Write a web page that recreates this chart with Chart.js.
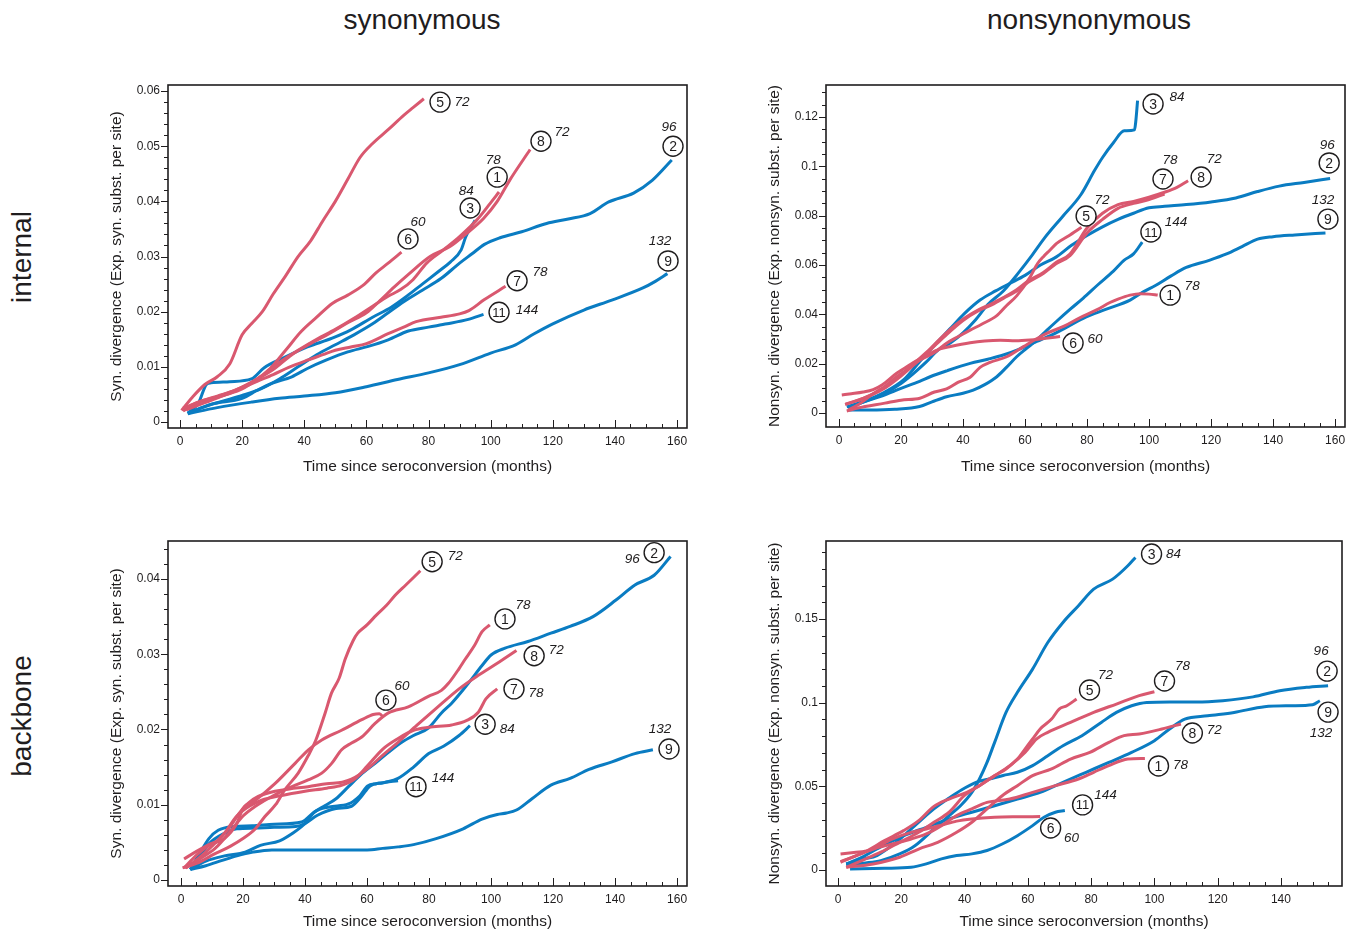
<!DOCTYPE html>
<html>
<head>
<meta charset="utf-8">
<script src="https://cdn.jsdelivr.net/npm/chart.js@4.4.1/dist/chart.umd.min.js"></script>
<style>
  body { margin: 0; background: #fff; width: 1356px; height: 933px; position: relative; overflow: hidden;
         font-family: 'Liberation Sans', Arial, sans-serif; color: #1f1d1e; }
  canvas { position: absolute; }
  .head { position: absolute; top: 4px; font-size: 28px; line-height: 32px; transform: translateX(-50%); white-space: nowrap; }
  .side { position: absolute; font-size: 28px; line-height: 32px; transform: translate(-50%, -50%) rotate(-90deg); white-space: nowrap; }
</style>
</head>
<body>
<div class="head" style="left:422px">synonymous</div>
<div class="head" style="left:1089px">nonsynonymous</div>
<div class="side" style="left:22px; top:257px">internal</div>
<div class="side" style="left:22px; top:716px">backbone</div>

<canvas id="intSyn" width="600" height="410" style="left:95px; top:75px"></canvas>
<canvas id="intNon" width="600" height="410" style="left:755px; top:75px"></canvas>
<canvas id="bbSyn" width="600" height="402" style="left:95px; top:531px"></canvas>
<canvas id="bbNon" width="600" height="402" style="left:755px; top:531px"></canvas>

<script>
// ---- data: [months since seroconversion, divergence] per patient ----
const patients = ['1', '2', '3', '5', '6', '7', '8', '9', '11'];
const sampleMonths = ['78', '96', '84', '72', '60', '78', '72', '132', '144'];
const redPatients = ['1', '5', '6', '7', '8'];

// internal branches, synonymous
const intSyn_1 = [[2,0.0022],[8,0.0035],[14,0.0048],[20,0.006],[26,0.0082],[32,0.0108],[38,0.013],[44,0.015],[50,0.0168],[56,0.0188],[62,0.021],[67,0.0228],[71,0.024],[75,0.0258],[79.4,0.0288],[84.8,0.0312],[90,0.0336],[95.5,0.0366],[99.8,0.0396],[102.7,0.0417]];
const intSyn_2 = [[2.5,0.0015],[8,0.0028],[14,0.0038],[20,0.0048],[26,0.006],[32,0.0078],[38,0.01],[44,0.0122],[50,0.014],[56,0.0158],[62,0.0178],[67,0.0198],[72,0.0218],[78,0.0239],[84,0.026],[90,0.0288],[94,0.0305],[98,0.0322],[103,0.0334],[110,0.0345],[118,0.036],[125,0.0368],[132,0.0378],[138,0.0399],[146,0.0415],[152,0.0438],[158.3,0.0475]];
const intSyn_3 = [[2.5,0.0016],[6,0.0035],[8.5,0.0068],[10,0.0071],[16,0.0073],[23,0.0078],[27,0.0098],[34,0.0118],[41,0.0136],[49,0.0152],[55,0.0167],[62,0.019],[68,0.0208],[73,0.0228],[78,0.025],[83,0.0272],[87,0.029],[90.5,0.0312],[92,0.0336],[95,0.0366]];
const intSyn_5 = [[0.5,0.0021],[4,0.0045],[8,0.0068],[12,0.0082],[16,0.0105],[20,0.0158],[23,0.0178],[26.5,0.02],[30,0.0232],[34,0.0265],[38,0.03],[42,0.0328],[46,0.0365],[50,0.04],[54,0.044],[58,0.048],[62,0.0505],[67,0.053],[72,0.0556],[75,0.057],[78.5,0.0586]];
const intSyn_6 = [[1,0.0025],[6,0.0036],[12,0.0047],[18,0.0058],[24,0.0075],[29,0.0097],[34,0.013],[39,0.0164],[44,0.019],[49,0.0215],[54,0.023],[59,0.0248],[63,0.027],[67,0.0288],[71.3,0.0308]];
const intSyn_7 = [[1,0.0021],[5,0.0034],[10,0.0042],[15,0.005],[20,0.0062],[25,0.0074],[30,0.0086],[35,0.0099],[41,0.0112],[46,0.0122],[50,0.013],[55,0.0136],[60,0.0142],[67,0.016],[72,0.0172],[76,0.0182],[84,0.019],[90,0.0196],[93,0.0202],[98,0.0222],[104.8,0.0246]];
const intSyn_8 = [[1,0.002],[6,0.0036],[12,0.0046],[18,0.0058],[24,0.0075],[30,0.0095],[36,0.0122],[42,0.0142],[48,0.016],[54,0.018],[60,0.0198],[64,0.0218],[69,0.0245],[74,0.027],[80.5,0.03],[86.9,0.0318],[92.3,0.0342],[97.7,0.0369],[102,0.0399],[106.2,0.0439],[112.7,0.0494]];
const intSyn_9 = [[2.5,0.0015],[12,0.0026],[23,0.0036],[32,0.0043],[40,0.0047],[50,0.0053],[60,0.0064],[70,0.0077],[80,0.0089],[90,0.0104],[100,0.0125],[108,0.014],[114,0.016],[120,0.0178],[130,0.0203],[139,0.0221],[149,0.0243],[153,0.0255],[156.9,0.0269]];
const intSyn_11 = [[2.5,0.0016],[10,0.0032],[20,0.0043],[25,0.0058],[29.5,0.007],[36,0.0082],[41,0.0097],[47,0.0112],[54,0.0127],[60.6,0.0137],[67,0.0149],[73.5,0.0165],[80,0.0172],[86,0.0178],[92.8,0.0186],[97.7,0.0195]];

// internal branches, nonsynonymous
const intNon_1 = [[2.5,0.0008],[6,0.002],[14.8,0.004],[20,0.0052],[26.1,0.006],[30.8,0.0085],[34.7,0.0098],[38.5,0.0125],[42.3,0.0145],[45.5,0.0185],[48.7,0.0205],[54.1,0.0228],[59.5,0.0269],[63,0.0296],[67,0.0323],[72.6,0.0352],[77.5,0.0385],[83.1,0.0418],[87.4,0.0448],[90,0.0462],[93.9,0.0478],[97.2,0.0484],[100,0.0482],[102.8,0.0478]];
const intNon_2 = [[2.5,0.0025],[8.6,0.005],[14.8,0.0085],[20.9,0.0135],[25.8,0.0205],[30.8,0.0275],[35.7,0.034],[40.6,0.0405],[45.5,0.0458],[50.5,0.0495],[55,0.0525],[60,0.0558],[65,0.06],[70,0.0632],[75,0.068],[80,0.072],[85,0.0755],[90,0.0785],[95,0.081],[100,0.0832],[105,0.0838],[112,0.0845],[120,0.0856],[128,0.0872],[135,0.0898],[142,0.092],[150,0.0935],[158.4,0.0951]];
const intNon_3 = [[3,0.0025],[8,0.0045],[14,0.0075],[20,0.012],[24,0.016],[28,0.0205],[32,0.0256],[36,0.0285],[40,0.0325],[44,0.0377],[48,0.044],[53,0.0495],[58,0.057],[62,0.0635],[66.5,0.0713],[72,0.0795],[78,0.0885],[82.5,0.0985],[85,0.1036],[88.5,0.1096],[92,0.1144],[95.3,0.1148],[95.7,0.118],[96.3,0.1267]];
const intNon_5 = [[3,0.0012],[6,0.0032],[11,0.0078],[15,0.011],[18.6,0.0147],[22,0.0175],[26.1,0.0215],[30.8,0.0245],[34.7,0.0283],[38.5,0.031],[42.3,0.0336],[46,0.036],[50.9,0.0395],[54,0.0435],[57.3,0.0475],[61.6,0.055],[64,0.0605],[66,0.0635],[68,0.066],[70.2,0.0688],[74,0.0718],[78.2,0.0753]];
const intNon_6 = [[0.9,0.0073],[4,0.0078],[7.8,0.0085],[11,0.0095],[14,0.0115],[18.6,0.0161],[21,0.018],[24,0.0205],[28.3,0.0235],[32.6,0.026],[36,0.027],[42.3,0.0285],[47,0.0292],[52,0.0295],[57,0.0293],[61.6,0.0296],[66,0.0302],[71.3,0.031]];
const intNon_7 = [[2,0.0035],[8,0.006],[14,0.0095],[20,0.015],[25,0.0205],[29.4,0.0255],[34,0.031],[40,0.0375],[45,0.0415],[48.7,0.0435],[53,0.0465],[57.3,0.0495],[61,0.053],[65.9,0.0566],[70,0.0605],[74.5,0.0638],[80,0.073],[85,0.0785],[90,0.083],[95,0.085],[100,0.0865],[105,0.0888]];
const intNon_8 = [[2,0.0035],[8,0.006],[14,0.0098],[20,0.0155],[25,0.021],[29.4,0.026],[34,0.0318],[40,0.038],[45,0.0418],[48.7,0.044],[53,0.0468],[57.3,0.05],[61,0.0535],[65.9,0.057],[70,0.061],[74.5,0.0645],[80,0.075],[85,0.081],[90,0.0845],[95,0.0858],[100,0.0875],[105,0.0895],[109,0.0915],[112.6,0.0942]];
const intNon_9 = [[3,0.002],[8,0.0045],[14,0.007],[20,0.01],[26,0.0128],[29.4,0.0147],[35,0.0172],[42.3,0.0201],[48,0.0218],[53,0.0235],[58,0.0258],[63.8,0.029],[70,0.0325],[78.8,0.0384],[86,0.042],[93.9,0.0458],[98,0.049],[102.2,0.0518],[107,0.0555],[112,0.059],[119.4,0.0619],[125,0.0645],[130,0.0675],[135,0.0705],[140,0.0715],[147,0.0722],[156.9,0.073]];
const intNon_11 = [[3,0.0012],[10,0.0012],[18,0.0015],[26,0.0026],[30,0.0045],[34.7,0.0066],[40,0.008],[43.3,0.0093],[47,0.0115],[50.9,0.0147],[54,0.0185],[57.3,0.0228],[60.5,0.0262],[63.8,0.0296],[67,0.0335],[70.2,0.0372],[74.5,0.042],[78.8,0.0466],[83.5,0.052],[88.5,0.0575],[92,0.062],[95,0.0645],[97.8,0.0693]];

// backbone, synonymous
const bbSyn_1 = [[1.5,0.0016],[6,0.0028],[11,0.0042],[16,0.0065],[20,0.0085],[24,0.0098],[28,0.0108],[34.6,0.0122],[41,0.0133],[45.4,0.0142],[48.6,0.0155],[51.8,0.0173],[55,0.0182],[58.3,0.019],[62.6,0.0208],[66.9,0.0222],[73.3,0.023],[79.8,0.0244],[84,0.0252],[86.2,0.0261],[89.7,0.0281],[91.6,0.0293],[94.7,0.0312],[97.1,0.033],[99.6,0.0339]];
const bbSyn_2 = [[3,0.0014],[6,0.0035],[9,0.0055],[12,0.0066],[17,0.0071],[23,0.0072],[30,0.0074],[38.9,0.0077],[42.9,0.009],[46.5,0.0099],[50,0.0108],[54,0.0124],[58,0.014],[62.6,0.0155],[67,0.017],[71.2,0.0183],[75,0.0192],[79.8,0.0202],[84,0.0222],[87.3,0.0235],[92.2,0.0259],[97.1,0.0285],[100,0.0299],[104.5,0.0308],[111.9,0.0317],[119.3,0.0328],[125.5,0.0337],[132.9,0.035],[140.3,0.0372],[146.4,0.0392],[152.6,0.0405],[157.9,0.043]];
const bbSyn_3 = [[3,0.0014],[8,0.0025],[14,0.0032],[20.7,0.0037],[25.6,0.0046],[31.8,0.0052],[36,0.0062],[40,0.0075],[43,0.009],[47.8,0.0097],[54,0.0101],[57.7,0.0112],[60.2,0.0125],[63,0.0128],[66,0.013],[70,0.0135],[75,0.015],[79.9,0.0168],[84.8,0.0178],[89.7,0.0192],[93.2,0.0205]];
const bbSyn_5 = [[0.5,0.0016],[5,0.0022],[11,0.0035],[16,0.0045],[20,0.0055],[24,0.0068],[27,0.0084],[30.5,0.01],[33.5,0.012],[37.8,0.0142],[41,0.0165],[43.5,0.0186],[46.5,0.0222],[48.5,0.0248],[51,0.0268],[53,0.0294],[55.5,0.0318],[57,0.0328],[60,0.0339],[63,0.0352],[66.3,0.0365],[69,0.0378],[72.5,0.0392],[75,0.0402],[77.2,0.0411]];
const bbSyn_6 = [[1,0.0016],[5,0.0033],[9,0.0046],[14,0.0055],[18,0.0075],[20,0.0095],[24,0.0106],[30.3,0.0128],[36.8,0.0155],[41.1,0.0173],[45.4,0.0186],[51.8,0.0199],[58.3,0.0213],[62,0.022],[64,0.0221],[65.3,0.0216]];
const bbSyn_7 = [[1.5,0.0016],[6,0.003],[10,0.0045],[14,0.0062],[18,0.0085],[22,0.0098],[26,0.0106],[32,0.0112],[40,0.0118],[47,0.0122],[52,0.0126],[56,0.0134],[60.2,0.0152],[65.1,0.0174],[70,0.0188],[75,0.0199],[79.9,0.0203],[87.3,0.0206],[92.2,0.0212],[95.9,0.0223],[98.4,0.0241],[102,0.0254]];
const bbSyn_8 = [[1,0.0028],[5,0.0038],[9,0.0047],[12,0.0053],[16,0.0072],[19.6,0.0093],[22,0.0103],[24.9,0.0111],[30.3,0.0118],[35,0.0121],[41,0.0124],[47,0.0128],[52,0.013],[55,0.0134],[60.2,0.0148],[65.1,0.0166],[70,0.0183],[76.2,0.0206],[82.3,0.0228],[89.7,0.0254],[95.9,0.0272],[102,0.0288],[108.2,0.0305]];
const bbSyn_9 = [[3,0.0014],[8,0.0019],[13.3,0.0026],[18,0.0032],[23.2,0.0037],[29.3,0.004],[40,0.004],[50,0.004],[60,0.004],[65.1,0.0042],[70,0.0044],[75,0.0047],[82.3,0.0055],[91,0.0068],[97.1,0.0081],[102,0.0087],[105,0.0089],[108.2,0.0093],[113.2,0.0108],[119.3,0.0126],[125.5,0.0135],[131.6,0.0147],[139,0.0157],[146.4,0.0168],[152.2,0.0173]];
const bbSyn_11 = [[3,0.0014],[6,0.003],[9,0.0048],[14,0.0062],[18,0.0068],[24,0.0069],[30,0.007],[37,0.0071],[40,0.0075],[44,0.0086],[50,0.0095],[55,0.0098],[58,0.011],[61,0.0125],[65,0.0129],[70,0.0132]];

// backbone, nonsynonymous
const bbNon_1 = [[0.8,0.0046],[5,0.008],[11.1,0.0125],[17.1,0.0155],[23.1,0.0185],[27.9,0.0215],[32.7,0.0265],[37.5,0.0325],[42.3,0.0365],[47.1,0.0404],[54.3,0.0424],[61.5,0.0464],[68.7,0.0504],[76,0.0544],[80.8,0.0584],[85.6,0.0624],[91.6,0.0663],[97,0.0667]];
const bbNon_2 = [[2.6,0.0036],[8,0.0065],[12.3,0.0086],[18.3,0.0165],[24.3,0.0265],[30.3,0.0365],[35.1,0.043],[39,0.0478],[43.8,0.0525],[48,0.0545],[52.2,0.0565],[56.7,0.0584],[61.5,0.0624],[66.3,0.0683],[71.1,0.0743],[77.1,0.0803],[83.2,0.0882],[88,0.0942],[92.8,0.0982],[97.6,0.1002],[104.8,0.1005],[113.2,0.1004],[121.6,0.1012],[131.2,0.1035],[139.6,0.1072],[148,0.1092],[154.9,0.1102]];
const bbNon_3 = [[2.6,0.0026],[8,0.004],[13.5,0.0056],[19.5,0.0096],[24.3,0.0145],[30.3,0.0245],[35.1,0.0325],[38.7,0.0384],[42.3,0.0464],[44.7,0.0544],[47.1,0.0643],[49.5,0.0763],[53.1,0.0942],[56.7,0.1062],[61.5,0.1201],[66.3,0.136],[71.1,0.148],[76,0.158],[80.8,0.1679],[86.8,0.1739],[91.6,0.1819],[94,0.1869]];
const bbNon_5 = [[2.6,0.0016],[7.5,0.0056],[13.5,0.0106],[19.5,0.0165],[25.5,0.0225],[30.3,0.0285],[35.1,0.0345],[39.9,0.0444],[44.7,0.0504],[49.5,0.0564],[53.1,0.0604],[56.7,0.0663],[59.1,0.0723],[61.5,0.0783],[63.9,0.0843],[67.5,0.0902],[69.9,0.0962],[72.3,0.0982],[75.4,0.1022]];
const bbNon_6 = [[0.8,0.0096],[5,0.0105],[9.9,0.0116],[17.1,0.0185],[23.1,0.0225],[27.9,0.0245],[32.7,0.0268],[37.5,0.0292],[42.3,0.0305],[49.5,0.0315],[56.7,0.0318],[63.9,0.0319]];
const bbNon_7 = [[0.8,0.005],[5,0.008],[8.7,0.011],[14.7,0.0175],[20.7,0.0235],[25.5,0.0295],[30.3,0.038],[35.1,0.0424],[40.7,0.0464],[44.7,0.0504],[49.5,0.0564],[54.3,0.0624],[59.1,0.0703],[62.7,0.0783],[66.3,0.0823],[73.5,0.0882],[80.8,0.0942],[88,0.0992],[95.2,0.1042],[100,0.1066]];
const bbNon_8 = [[2.6,0.0016],[11.1,0.0036],[19.5,0.0076],[25.5,0.0125],[31.5,0.0165],[37.5,0.0225],[42.3,0.0285],[47.1,0.0365],[51.9,0.0444],[56.7,0.0504],[61.5,0.0564],[67.5,0.0604],[73.5,0.0663],[79.6,0.0703],[85.6,0.0763],[90.4,0.0803],[95.2,0.0813],[102.4,0.0843],[108.4,0.0873]];
const bbNon_9 = [[2.6,0.0036],[8,0.008],[12.3,0.0125],[20.7,0.0205],[27.9,0.0255],[35.1,0.0305],[42.3,0.0345],[49.5,0.0384],[56.7,0.0424],[63.9,0.0464],[71.1,0.0524],[78.4,0.0584],[85.6,0.0643],[92.8,0.0703],[100,0.0773],[104.8,0.0843],[109.6,0.0902],[116.8,0.0922],[125.2,0.0942],[134.8,0.0976],[143.3,0.0982],[150,0.0988],[152.3,0.1012]];
const bbNon_11 = [[3.8,0.0006],[14.7,0.001],[23.1,0.0016],[27.9,0.0036],[32.7,0.0066],[37.5,0.0086],[42.3,0.0096],[47.1,0.0116],[51.9,0.0155],[56.7,0.0205],[61.5,0.0265],[65.1,0.0315],[68.7,0.0345],[71.7,0.0355]];

// tick values and labels
const xTicksFull = [0, 20, 40, 60, 80, 100, 120, 140, 160];
const xTicksShort = [0, 20, 40, 60, 80, 100, 120, 140];
const intSynYTicks = [0, 0.01, 0.02, 0.03, 0.04, 0.05, 0.06];
const intSynYLabels = ['0', '0.01', '0.02', '0.03', '0.04', '0.05', '0.06'];
const intNonYTicks = [0, 0.02, 0.04, 0.06, 0.08, 0.1, 0.12];
const intNonYLabels = ['0', '0.02', '0.04', '0.06', '0.08', '0.1', '0.12'];
const bbSynYTicks = [0, 0.01, 0.02, 0.03, 0.04];
const bbSynYLabels = ['0', '0.01', '0.02', '0.03', '0.04'];
const bbNonYTicks = [0, 0.05, 0.1, 0.15];
const bbNonYLabels = ['0', '0.05', '0.1', '0.15'];

// ---- styling / layout ----
const RED = '#d9586f';
const BLUE = '#0a7cc2';
const INK = '#1f1d1e';
const FONT = "'Liberation Sans', Arial, sans-serif";
Chart.defaults.font.family = FONT;
Chart.defaults.color = INK;

// where each patient's tag sits: [month, value, dx, dy of the italic count], in patient order
const intSynTagAt = [[102.1,0.0444,-4,-17],[158.7,0.05,-4,-19],[93.4,0.0388,-4,-17],[83.7,0.058,22,0],[73.4,0.0332,10,-17],[108.5,0.0256,23,-9],[116.2,0.0509,21,-9],[157.1,0.0292,-8,-20],[102.7,0.0199,28,-2]];
const intNonTagAt = [[106.8,0.0478,22,-9],[158.1,0.1014,-2,-18],[101.3,0.1253,24,-7],[79.7,0.0799,16,-16],[75.5,0.0284,22,-4],[104.5,0.0949,7,-19],[116.8,0.0957,13,-18],[157.7,0.0786,-5,-19],[100.6,0.0734,25,-10]];
const bbSynTagAt = [[104.5,0.0347,18,-14],[152.6,0.0435,-22,7],[98.1,0.0207,22,5],[81,0.0423,23,-5],[66.1,0.0239,16,-14],[107.4,0.0254,22,4],[113.9,0.0298,22,-5],[157.4,0.0174,-9,-20],[75.8,0.0124,27,-8]];
const bbNonTagAt = [[101.3,0.0622,22,-1],[154.6,0.1189,-6,-20],[99.1,0.1889,22,0],[79.5,0.1076,16,-15],[67.2,0.0251,21,10],[103.2,0.113,18,-15],[112,0.0819,22,-3],[154.9,0.0944,-7,21],[77.3,0.0389,23,-10]];

// box around the plot with ticks: x ticks point inward, y ticks point outward
const framePlugin = {
  id: 'frame',
  afterDraw(chart, args, o) {
    const { ctx, chartArea: a, scales: { x, y } } = chart;
    ctx.save();
    ctx.strokeStyle = INK;
    ctx.lineWidth = 1;
    ctx.beginPath();
    for (let m = 0; m <= o.xEnd; m += 5) {
      const px = Math.round(x.getPixelForValue(m)) + 0.5;
      const len = m % 20 === 0 ? 8 : 4;
      ctx.moveTo(px, a.bottom);
      ctx.lineTo(px, a.bottom - len);
    }
    for (let i = 0; i * o.yStep <= o.yEnd + 1e-9; i++) {
      const py = Math.round(y.getPixelForValue(i * o.yStep)) + 0.5;
      const len = i % o.yMajorEvery === 0 ? 7 : 4;
      ctx.moveTo(a.left, py);
      ctx.lineTo(a.left - len, py);
    }
    ctx.stroke();
    ctx.lineWidth = 1.6;
    ctx.strokeRect(a.left, a.top, a.right - a.left, a.bottom - a.top);
    ctx.restore();
  }
};

// circled patient number plus italic sample count
const tagPlugin = {
  id: 'tags',
  afterDraw(chart, args, o) {
    const { ctx, scales: { x, y } } = chart;
    ctx.save();
    ctx.textAlign = 'center';
    ctx.textBaseline = 'middle';
    ctx.strokeStyle = INK;
    patients.forEach((p, i) => {
      const [m, v, dx, dy] = o.at[i];
      const cx = x.getPixelForValue(m), cy = y.getPixelForValue(v);
      ctx.beginPath();
      ctx.arc(cx, cy, 10, 0, Math.PI * 2);
      ctx.fillStyle = '#fff';
      ctx.fill();
      ctx.lineWidth = 1.4;
      ctx.stroke();
      ctx.fillStyle = INK;
      ctx.font = (p.length > 1 ? '13px ' : '14px ') + FONT;
      ctx.fillText(p, cx, cy + 1);
      ctx.font = 'italic 13.5px ' + FONT;
      ctx.fillText(sampleMonths[i], cx + dx, cy + dy);
    });
    ctx.restore();
  }
};

function panel(id, p) {
  const datasets = p.series.map((pts, i) => ({
    data: pts.map(([m, v]) => ({ x: m, y: v })),
    borderColor: redPatients.includes(patients[i]) ? RED : BLUE,
    borderWidth: 3,
    pointRadius: 0,
    cubicInterpolationMode: 'monotone',
    fill: false,
    order: redPatients.includes(patients[i]) ? 0 : 1
  }));
  new Chart(document.getElementById(id), {
    type: 'line',
    data: { datasets },
    options: {
      responsive: false,
      animation: false,
      devicePixelRatio: 1,
      layout: { padding: { top: 10, right: p.padRight, left: 0, bottom: 0 } },
      plugins: {
        legend: { display: false },
        tooltip: { enabled: false },
        frame: { xEnd: p.xEnd, yStep: p.yStep, yEnd: p.yEnd, yMajorEvery: p.yMajorEvery },
        tags: { at: p.tagAt }
      },
      scales: {
        x: {
          type: 'linear', min: p.xMin, max: p.xMax,
          grid: { display: false, drawTicks: false },
          border: { display: false },
          afterBuildTicks: s => { s.ticks = p.xTicks.map(v => ({ value: v })); },
          afterFit: s => { s.height = p.xH; s.paddingLeft = 0; s.paddingRight = 0; },
          ticks: { padding: 6, font: { size: 12 }, autoSkip: false, maxRotation: 0,
                   callback: (v, i) => String(p.xTicks[i]) },
          title: { display: true, text: 'Time since seroconversion (months)', font: { size: 15.5 },
                   padding: { top: 0, bottom: p.xTitlePad } }
        },
        y: {
          type: 'linear', min: p.yMin, max: p.yMax,
          grid: { display: false, drawTicks: false },
          border: { display: false },
          afterBuildTicks: s => { s.ticks = p.yTicks.map(v => ({ value: v })); },
          afterFit: s => { s.width = p.yW; s.paddingTop = 0; s.paddingBottom = 0; },
          ticks: { padding: 8, font: { size: 12 }, autoSkip: false,
                   callback: (v, i) => p.yLabels[i] },
          title: { display: true, text: p.yTitle, font: { size: 15.5 },
                   padding: { top: p.yTitlePad, bottom: 0 } }
        }
      }
    },
    plugins: [framePlugin, tagPlugin]
  });
}

panel('intSyn', {
  series: [intSyn_1, intSyn_2, intSyn_3, intSyn_5, intSyn_6, intSyn_7, intSyn_8, intSyn_9, intSyn_11],
  xMin: -3.86, xMax: 163.2, yMin: -0.00109, yMax: 0.0611,
  xTicks: xTicksFull, yTicks: intSynYTicks, yLabels: intSynYLabels,
  xEnd: 160, yStep: 0.002, yEnd: 0.06, yMajorEvery: 5,
  yW: 73, xH: 57, padRight: 8, xTitlePad: 9, yTitlePad: 12.7,
  yTitle: 'Syn. divergence (Exp. syn. subst. per site)', tagAt: intSynTagAt
});

panel('intNon', {
  series: [intNon_1, intNon_2, intNon_3, intNon_5, intNon_6, intNon_7, intNon_8, intNon_9, intNon_11],
  xMin: -4.19, xMax: 163.2, yMin: -0.00568, yMax: 0.133,
  xTicks: xTicksFull, yTicks: intNonYTicks, yLabels: intNonYLabels,
  xEnd: 160, yStep: 0.005, yEnd: 0.13, yMajorEvery: 4,
  yW: 71, xH: 58, padRight: 10, xTitlePad: 9, yTitlePad: 10.7,
  yTitle: 'Nonsyn. divergence (Exp. nonsyn. subst. per site)', tagAt: intNonTagAt
});

panel('bbSyn', {
  series: [bbSyn_1, bbSyn_2, bbSyn_3, bbSyn_5, bbSyn_6, bbSyn_7, bbSyn_8, bbSyn_9, bbSyn_11],
  xMin: -4.19, xMax: 163.2, yMin: -0.0008, yMax: 0.04505,
  xTicks: xTicksFull, yTicks: bbSynYTicks, yLabels: bbSynYLabels,
  xEnd: 160, yStep: 0.002, yEnd: 0.044, yMajorEvery: 5,
  yW: 73, xH: 47, padRight: 8, xTitlePad: 2, yTitlePad: 12.7,
  yTitle: 'Syn. divergence (Exp. syn. subst. per site)', tagAt: bbSynTagAt
});

panel('bbNon', {
  series: [bbNon_1, bbNon_2, bbNon_3, bbNon_5, bbNon_6, bbNon_7, bbNon_8, bbNon_9, bbNon_11],
  xMin: -3.8, xMax: 159.3, yMin: -0.0096, yMax: 0.1967,
  xTicks: xTicksShort, yTicks: bbNonYTicks, yLabels: bbNonYLabels,
  xEnd: 155, yStep: 0.01, yEnd: 0.19, yMajorEvery: 5,
  yW: 71, xH: 47, padRight: 13, xTitlePad: 2, yTitlePad: 10.7,
  yTitle: 'Nonsyn. divergence (Exp. nonsyn. subst. per site)', tagAt: bbNonTagAt
});
</script>
</body>
</html>
